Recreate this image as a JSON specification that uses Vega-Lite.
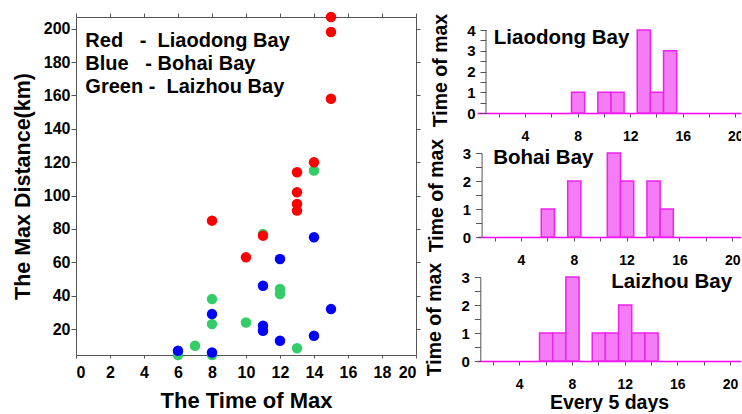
{
  "$schema": "https://vega.github.io/schema/vega-lite/v6.json",
  "padding": {"left": 12, "top": 11, "right": -3, "bottom": 0},
  "datasets": {
    "points": [
      {"bay": "Laizhou", "t": 6, "dist": 4.5},
      {"bay": "Laizhou", "t": 7, "dist": 10},
      {"bay": "Laizhou", "t": 8, "dist": 4.5},
      {"bay": "Laizhou", "t": 8, "dist": 23},
      {"bay": "Laizhou", "t": 8, "dist": 38},
      {"bay": "Laizhou", "t": 10, "dist": 24},
      {"bay": "Laizhou", "t": 11, "dist": 77},
      {"bay": "Laizhou", "t": 12, "dist": 41},
      {"bay": "Laizhou", "t": 12, "dist": 44},
      {"bay": "Laizhou", "t": 13, "dist": 8.5},
      {"bay": "Laizhou", "t": 14, "dist": 115},
      {"bay": "Liaodong", "t": 8, "dist": 85},
      {"bay": "Liaodong", "t": 10, "dist": 63},
      {"bay": "Liaodong", "t": 11, "dist": 76},
      {"bay": "Liaodong", "t": 13, "dist": 91},
      {"bay": "Liaodong", "t": 13, "dist": 95},
      {"bay": "Liaodong", "t": 13, "dist": 102},
      {"bay": "Liaodong", "t": 13, "dist": 114},
      {"bay": "Liaodong", "t": 14, "dist": 120},
      {"bay": "Liaodong", "t": 15, "dist": 158},
      {"bay": "Liaodong", "t": 15, "dist": 198},
      {"bay": "Liaodong", "t": 15, "dist": 207},
      {"bay": "Bohai", "t": 6, "dist": 7},
      {"bay": "Bohai", "t": 8, "dist": 6},
      {"bay": "Bohai", "t": 8, "dist": 29},
      {"bay": "Bohai", "t": 11, "dist": 19},
      {"bay": "Bohai", "t": 11, "dist": 22},
      {"bay": "Bohai", "t": 11, "dist": 46},
      {"bay": "Bohai", "t": 12, "dist": 13},
      {"bay": "Bohai", "t": 12, "dist": 62},
      {"bay": "Bohai", "t": 14, "dist": 16},
      {"bay": "Bohai", "t": 14, "dist": 75},
      {"bay": "Bohai", "t": 15, "dist": 32}
    ]
  },
  "spacing": 3,
  "hconcat": [
    {
      "width": 340,
      "height": 338,
      "layer": [
        {
          "data": {"name": "points"},
          "mark": {"type": "circle", "size": 110, "opacity": 1},
          "encoding": {
            "x": {"field": "t", "type": "quantitative",
              "scale": {"domain": [0, 20], "nice": false, "zero": false},
              "axis": {"values": [0, 2, 4, 6, 8, 10, 12, 14, 16, 18, 20], "tickSize": 3, "labelPadding": 6, "labelFontSize": 16, "title": "The Time of Max", "titleFontSize": 22, "titlePadding": 10}},
            "y": {"field": "dist", "type": "quantitative",
              "scale": {"domain": [4.5, 207], "nice": false, "zero": false},
              "axis": {"values": [20, 40, 60, 80, 100, 120, 140, 160, 180, 200], "tickSize": 5, "labelPadding": 1, "labelFontSize": 16, "title": "The Max Distance(km)", "titleFontSize": 21.5, "titlePadding": 9}},
            "color": {"field": "bay", "type": "nominal",
              "scale": {"domain": ["Liaodong", "Bohai", "Laizhou"], "range": ["#ff0000", "#0000ff", "#33cc66"]},
              "legend": null}
          }
        },
        {
          "data": {"values": [{}]},
          "mark": {"type": "text", "text": ["Red\u00a0\u00a0\u00a0-\u00a0\u00a0Liaodong Bay", "Blue\u00a0\u00a0\u00a0-\u00a0Bohai Bay", "Green\u00a0-\u00a0\u00a0Laizhou Bay"], "align": "left", "baseline": "alphabetic", "fontSize": 20, "fontWeight": "bold", "lineHeight": 22.8, "color": "#000"},
          "encoding": {
            "x": {"datum": 0.55, "type": "quantitative", "axis": {"orient": "top", "values": [0, 2, 4, 6, 8, 10, 12, 14, 16, 18, 20], "labels": false, "title": null, "tickSize": 4}},
            "y": {"datum": 188.8, "type": "quantitative", "axis": {"orient": "right", "values": [20, 40, 60, 80, 100, 120, 140, 160, 180, 200], "labels": false, "title": null, "tickSize": 4}}
          }
        }
      ],
      "resolve": {"axis": {"x": "independent", "y": "independent"}}
    },
    {
      "spacing": 40,
      "bounds": "flush",
      "vconcat": [
        {
          "width": 264,
          "height": 96,
          "layer": [
            {
              "data": {"name": "points"},
              "transform": [{"filter": "datum.bay == 'Liaodong'"}],
              "mark": {"type": "bar", "fill": "#f47cf4", "stroke": "#ee22ee", "strokeWidth": 1.5, "binSpacing": 0},
              "encoding": {
                "x": {"field": "t", "type": "quantitative", "bin": {"step": 1, "extent": [0.5, 20.5], "nice": false},
                  "scale": {"domain": [0.35, 20.43], "nice": false, "zero": false},
                  "axis": {"values": [2, 4, 6, 8, 10, 12, 14, 16, 18, 20], "labelExpr": "datum.value % 4 == 0 ? format(datum.value, 'd') : ''", "labelOverlap": false, "tickSize": 4, "labelPadding": 12, "labelFontSize": 14, "domainColor": "#ff00ff", "domainWidth": 1.5, "title": null}},
                "y": {"aggregate": "count", "type": "quantitative",
                  "scale": {"domain": [0, 4.63], "nice": false},
                  "axis": {"values": [0, 1, 2, 3, 4], "format": "d", "labelOverlap": false, "domain": false, "tickSize": 6, "labelPadding": 5, "labelFontSize": 15, "offset": -9, "title": "Time of max", "titleFontSize": 19.5, "titlePadding": 16, "titleY": 53}}
              }
            },
            {
              "data": {"values": [{}]},
              "mark": {"type": "rule", "color": "#555", "strokeWidth": 1},
              "encoding": {"x": {"datum": 1.034, "type": "quantitative"}, "y": {"datum": 0, "type": "quantitative", "axis": {"orient": "left", "values": [0.5, 1.5, 2.5, 3.5], "labels": false, "domain": false, "tickSize": 6, "offset": -9, "title": null}}, "y2": {"datum": 4}}
            },
            {
              "data": {"values": [{}]},
              "mark": {"type": "text", "text": "Liaodong Bay", "align": "left", "baseline": "alphabetic", "fontSize": 20.5, "fontWeight": "bold", "color": "#000"},
              "encoding": {"x": {"datum": 1.63, "type": "quantitative"}, "y": {"datum": 3.33, "type": "quantitative", "axis": null}}
            }
          ],
          "resolve": {"axis": {"y": "independent"}}
        },
        {
          "width": 264,
          "height": 84,
          "layer": [
            {
              "data": {"name": "points"},
              "transform": [{"filter": "datum.bay == 'Bohai'"}],
              "mark": {"type": "bar", "fill": "#f47cf4", "stroke": "#ee22ee", "strokeWidth": 1.5, "binSpacing": 0},
              "encoding": {
                "x": {"field": "t", "type": "quantitative", "bin": {"step": 1, "extent": [0.5, 20.5], "nice": false},
                  "scale": {"domain": [0.673, 20.66], "nice": false, "zero": false},
                  "axis": {"values": [2, 4, 6, 8, 10, 12, 14, 16, 18, 20], "labelExpr": "datum.value % 4 == 0 ? format(datum.value, 'd') : ''", "labelOverlap": false, "tickSize": 4, "labelPadding": 12, "labelFontSize": 14, "domainColor": "#ff00ff", "domainWidth": 1.5, "title": null}},
                "y": {"aggregate": "count", "type": "quantitative",
                  "scale": {"domain": [0, 3], "nice": false},
                  "axis": {"values": [0, 1, 2, 3], "format": "d", "labelOverlap": false, "tickSize": 6, "labelPadding": 5, "labelFontSize": 15, "offset": -4.6, "title": "Time of max", "titleFontSize": 19.5, "titlePadding": 16}}
              }
            },
            {
              "data": {"values": [{}]},
              "mark": {"type": "text", "text": "Bohai Bay", "align": "left", "baseline": "alphabetic", "fontSize": 20.5, "fontWeight": "bold", "color": "#000"},
              "encoding": {"x": {"datum": 1.9, "type": "quantitative"}, "y": {"datum": 2.62, "type": "quantitative", "axis": {"orient": "left", "values": [0.5, 1.5, 2.5], "labels": false, "domain": false, "tickSize": 6, "offset": -4.6, "title": null}}}
            }
          ],
          "resolve": {"axis": {"y": "independent"}}
        },
        {
          "width": 264,
          "height": 84,
          "layer": [
            {
              "data": {"name": "points"},
              "transform": [{"filter": "datum.bay == 'Laizhou'"}],
              "mark": {"type": "bar", "fill": "#f47cf4", "stroke": "#ee22ee", "strokeWidth": 1.5, "binSpacing": 0},
              "encoding": {
                "x": {"field": "t", "type": "quantitative", "bin": {"step": 1, "extent": [0.5, 20.5], "nice": false},
                  "scale": {"domain": [0.793, 20.83], "nice": false, "zero": false},
                  "axis": {"values": [2, 4, 6, 8, 10, 12, 14, 16, 18, 20], "labelExpr": "datum.value % 4 == 0 ? format(datum.value, 'd') : ''", "labelOverlap": false, "tickSize": 4, "labelPadding": 12, "labelFontSize": 14, "domainColor": "#ff00ff", "domainWidth": 1.5, "title": "Every 5 days", "titleFontSize": 19.5, "titlePadding": 2}},
                "y": {"aggregate": "count", "type": "quantitative",
                  "scale": {"domain": [0, 3], "nice": false},
                  "axis": {"values": [0, 1, 2, 3], "format": "d", "labelOverlap": false, "tickSize": 6, "labelPadding": 5, "labelFontSize": 15, "offset": -3.3, "title": "Time of max", "titleFontSize": 19.5, "titlePadding": 16}}
              }
            },
            {
              "data": {"values": [{}]},
              "mark": {"type": "text", "text": "Laizhou Bay", "align": "right", "baseline": "alphabetic", "fontSize": 20.5, "fontWeight": "bold", "color": "#000"},
              "encoding": {"x": {"datum": 20.15, "type": "quantitative"}, "y": {"datum": 2.6, "type": "quantitative", "axis": {"orient": "left", "values": [0.5, 1.5, 2.5], "labels": false, "domain": false, "tickSize": 6, "offset": -3.3, "title": null}}}
            }
          ],
          "resolve": {"axis": {"y": "independent"}}
        }
      ]
    }
  ],
  "config": {
    "font": "Liberation Sans",
    "view": {"stroke": null},
    "axis": {"labelFont": "Liberation Sans", "titleFont": "Liberation Sans", "labelFontWeight": "bold", "titleFontWeight": "bold", "labelColor": "#000", "titleColor": "#000", "domainColor": "#555", "tickColor": "#555", "grid": false, "labelOverlap": false}
  }
}
